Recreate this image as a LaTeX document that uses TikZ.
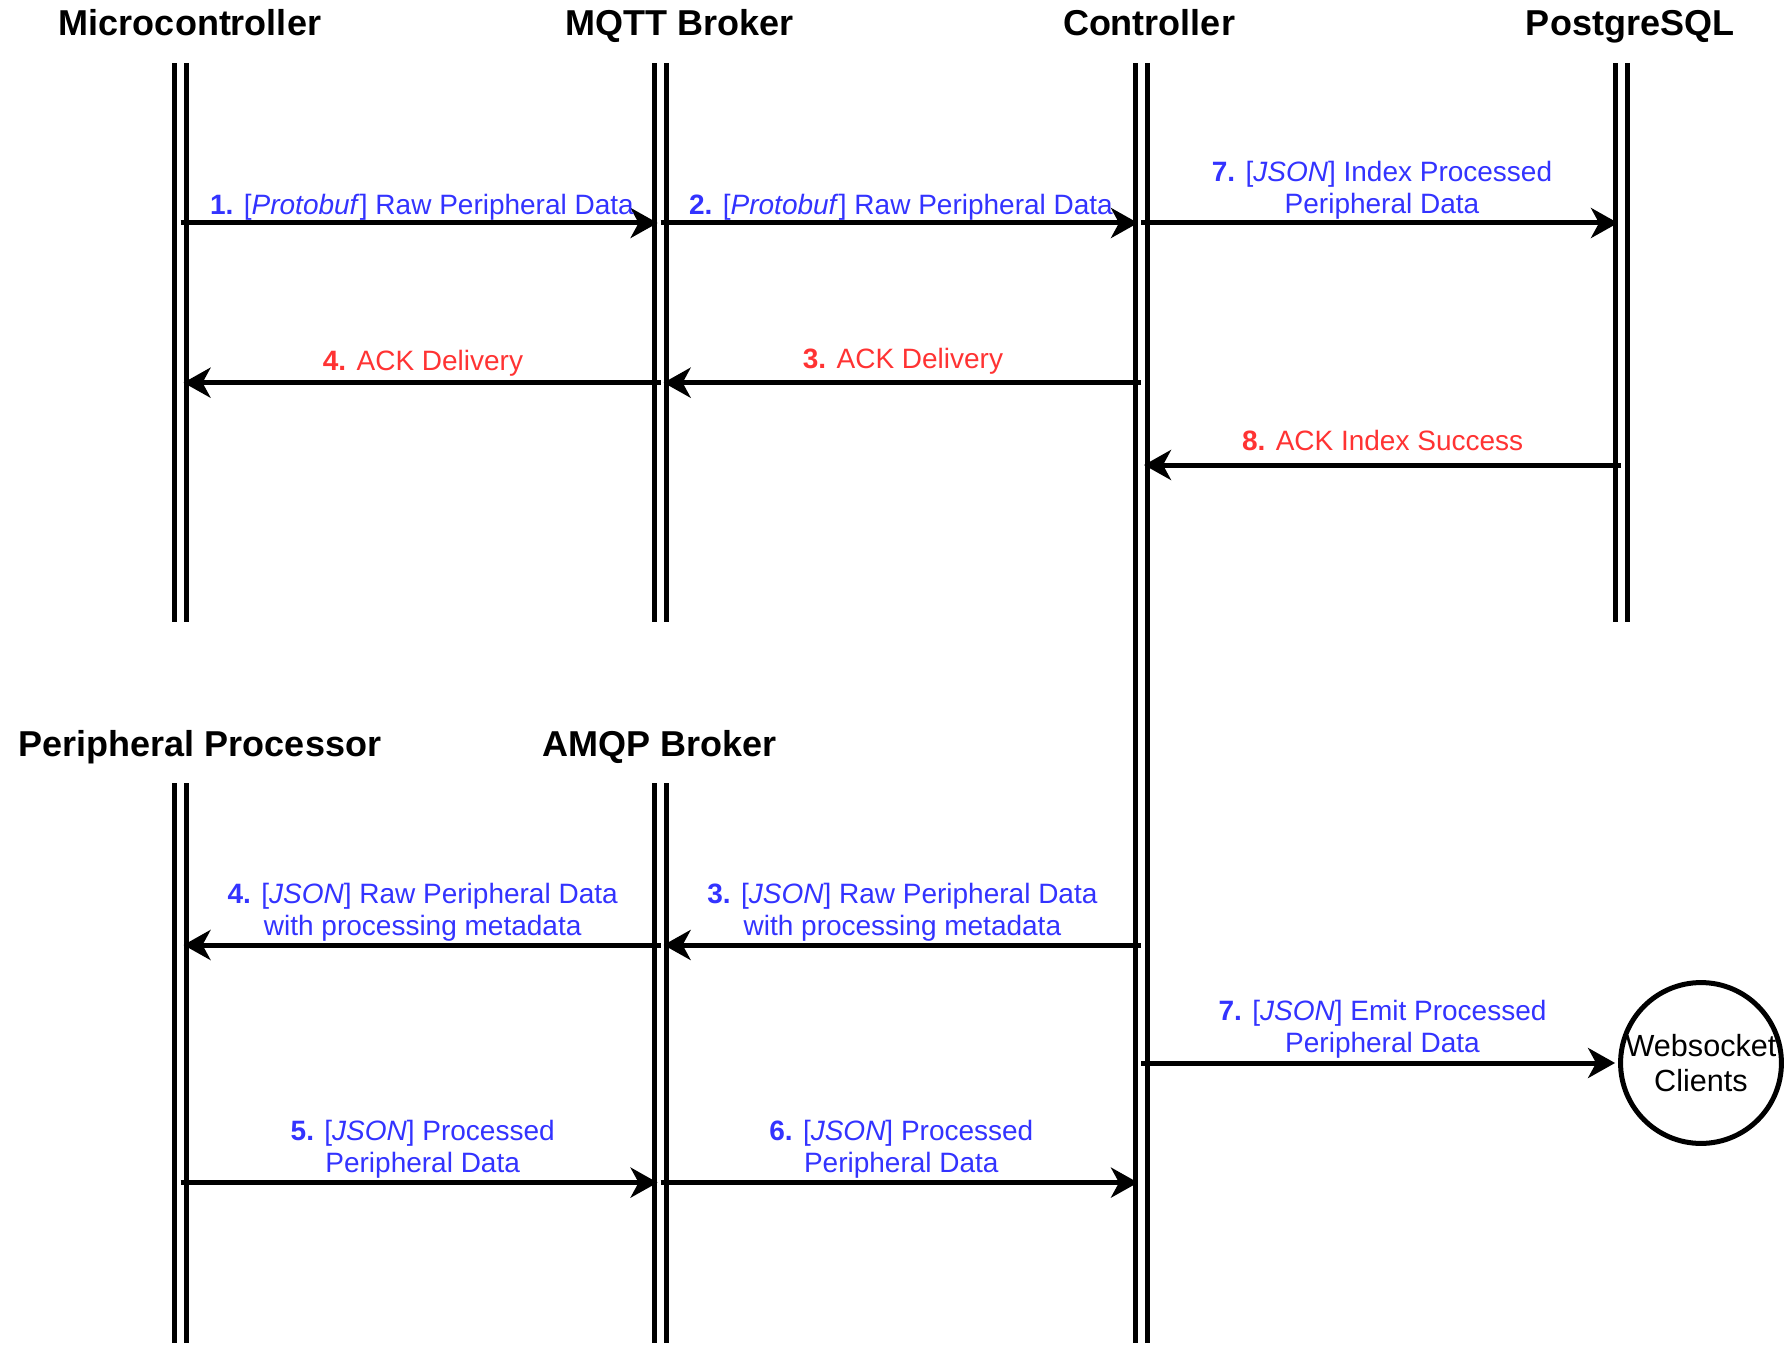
\documentclass[tikz,border=0pt]{standalone}
\usepackage{fontspec}
\setmainfont{Liberation Sans}
\usetikzlibrary{arrows.meta}
\tikzset{every picture/.style={line width=0.75pt}}
\tikzset{
  lifeline/.style={draw=black, line width=2.5pt, double=white, double distance=3.5pt},
  msg/.style={draw=black, line width=2.5pt, -{Stealth[length=13.5pt,width=15pt,inset=4pt]}, shorten >=1.5pt},
  actor/.style={anchor=base, inner sep=0pt, font=\fontsize{18}{21.6}\selectfont\bfseries},
  datalbl/.style={anchor=south, inner sep=0pt, align=center, text={rgb, 255:red, 51; green, 51; blue, 255}, font=\fontsize{14}{16.2}\selectfont},
  acklbl/.style={anchor=south, inner sep=0pt, align=center, text={rgb, 255:red, 255; green, 51; blue, 51}, font=\fontsize{14}{16.2}\selectfont}
}
\begin{document}
\begin{tikzpicture}[x=0.5pt,y=0.5pt,yscale=-1,xscale=1]
\useasboundingbox (0,0) rectangle (1784,1348);
%Lifelines
\coordinate (mcT) at (180.5,63);   \coordinate (mcB) at (180.5,622);
\coordinate (mqttT) at (660.6,63); \coordinate (mqttB) at (660.6,622);
\coordinate (ctlT) at (1141,63);   \coordinate (ctlB) at (1141,1343);
\coordinate (pgT) at (1621,63);    \coordinate (pgB) at (1621,622);
\coordinate (ppT) at (180.5,783);  \coordinate (ppB) at (180.5,1343);
\coordinate (amqpT) at (660.6,783);\coordinate (amqpB) at (660.6,1343);
\draw [lifeline] (mcT) -- (mcB);
\draw [lifeline] (mqttT) -- (mqttB);
\draw [lifeline] (ctlT) -- (ctlB);
\draw [lifeline] (pgT) -- (pgB);
\draw [lifeline] (ppT) -- (ppB);
\draw [lifeline] (amqpT) -- (amqpB);

\node [actor] (mcName) at (190,36) {Microcontroller};
\node [actor] (mqttName) at (680,36) {MQTT Broker};
\node [actor] (ctlName) at (1149,36) {Controller};
\node [actor] (pgName) at (1630,36) {PostgreSQL};
\node [actor] (ppName) at (200,756) {Peripheral Processor};
\node [actor] (amqpName) at (660,756) {AMQP Broker};

%Message rows
\coordinate (r1) at (0,223);
\coordinate (r2) at (0,382.7);
\coordinate (r3) at (0,465);
\coordinate (r4) at (0,945);
\coordinate (r5) at (0,1063);
\coordinate (r6) at (0,1182.6);

%Shape: Circle
\node [circle, draw, line width=2.5pt, minimum size=78.5pt, inner sep=0pt, align=center, font=\fontsize{15.3}{17.5}\selectfont] (ws) at (1701,1063) {Websocket\\Clients};

\draw [msg] (mcT |- r1) -- (mqttT |- r1);
\draw [msg] (mqttT |- r1) -- (ctlT |- r1);
\draw [msg] (ctlT |- r1) -- (pgT |- r1);
\draw [msg] (ctlT |- r2) -- (mqttT |- r2);
\draw [msg] (mqttT |- r2) -- (mcT |- r2);
\draw [msg] (pgT |- r3) -- (ctlT |- r3);
\draw [msg] (ctlT |- r4) -- (amqpT |- r4);
\draw [msg] (amqpT |- r4) -- (ppT |- r4);
\draw [msg] (ctlT |- r5) -- (ws);
\draw [msg] (ppT |- r6) -- (amqpT |- r6);
\draw [msg] (amqpT |- r6) -- (ctlT |- r6);

\node [datalbl] (m1) at (422,221) {\textbf{1.} [\textit{Protobuf}] Raw Peripheral Data};
\node [datalbl] (m2) at (901,221) {\textbf{2.} [\textit{Protobuf}] Raw Peripheral Data};
\node [datalbl] (m7a) at (1382,220) {\textbf{7.} [\textit{JSON}] Index Processed\\Peripheral Data};
\node [acklbl] (a4) at (423,377.5) {\textbf{4.} ACK Delivery};
\node [acklbl] (a3) at (903,375) {\textbf{3.} ACK Delivery};
\node [acklbl] (a8) at (1382.6,451.5) {\textbf{8.} ACK Index Success};
\node [datalbl] (m4) at (422.7,942.5) {\textbf{4.} [\textit{JSON}] Raw Peripheral Data\\with processing metadata};
\node [datalbl] (m3) at (902.4,942.5) {\textbf{3.} [\textit{JSON}] Raw Peripheral Data\\with processing metadata};
\node [datalbl] (m7b) at (1382.5,1059) {\textbf{7.} [\textit{JSON}] Emit Processed\\Peripheral Data};
\node [datalbl] (m5) at (422.7,1179.5) {\textbf{5.} [\textit{JSON}] Processed\\Peripheral Data};
\node [datalbl] (m6) at (901.3,1179.5) {\textbf{6.} [\textit{JSON}] Processed\\Peripheral Data};
\end{tikzpicture}
\end{document}
